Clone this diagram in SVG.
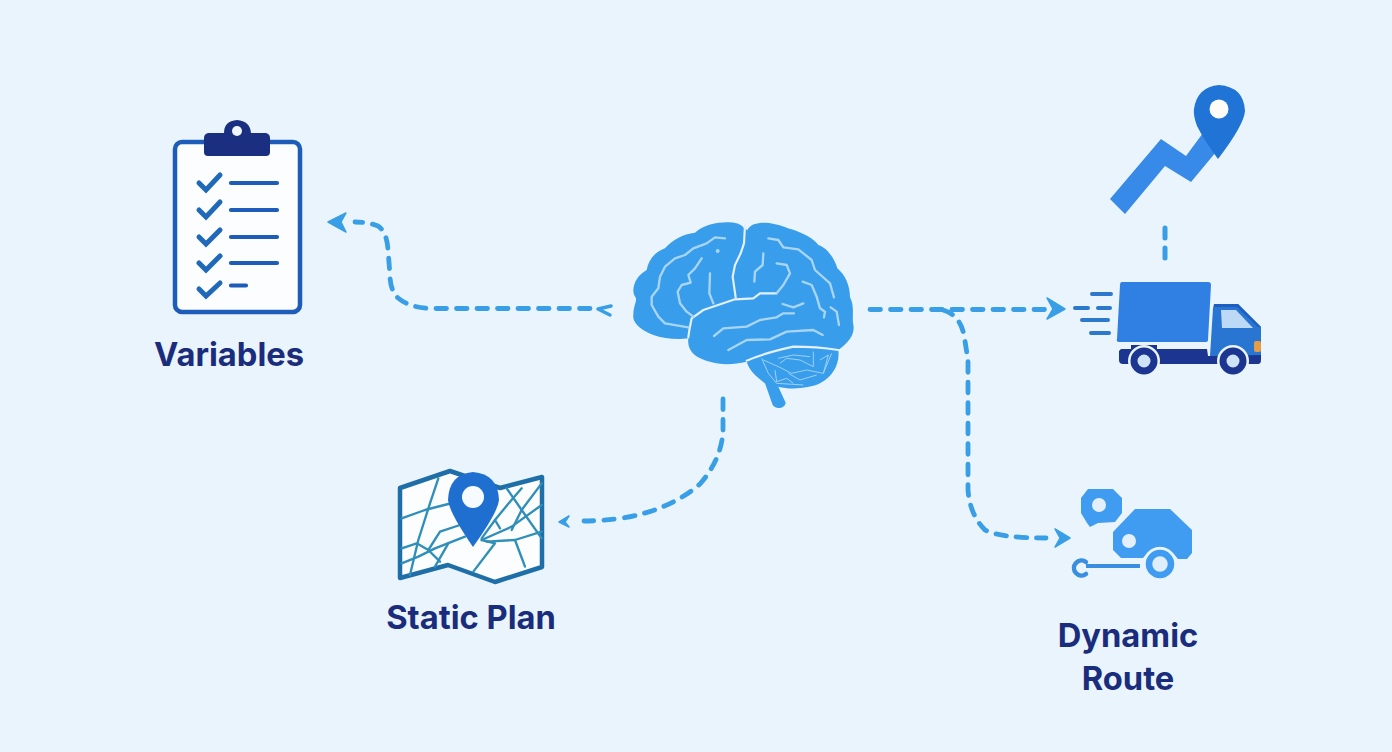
<svg xmlns="http://www.w3.org/2000/svg" width="1392" height="752" viewBox="0 0 1392 752">
<style>
.lbl{font-family:"Inter","Liberation Sans",sans-serif;font-weight:700;font-size:32.700px;fill:#1a2d7c;text-anchor:middle}
.dash{fill:none;stroke:#389fe6;stroke-width:4.800;stroke-linecap:round;stroke-dasharray:10.500 10}
.head{fill:#389fe6;stroke:#389fe6;stroke-width:1.500;stroke-linejoin:round}
.sul{fill:none;stroke:#a9d5f5;stroke-width:7;stroke-linecap:round;stroke-linejoin:round}
.gap{fill:none;stroke:#e4f1fc;stroke-width:6.500;stroke-linecap:round;stroke-linejoin:round}
.cer{fill:none;stroke:#9fd0f4;stroke-width:3;stroke-linejoin:round}
.road{fill:none;stroke:#2f8fb8;stroke-width:7;stroke-linejoin:round;stroke-linecap:round}
.chk{fill:none;stroke:#1f69b8;stroke-width:5;stroke-linecap:round;stroke-linejoin:miter}
.ln{fill:none;stroke:#1d5cb8;stroke-width:4.200;stroke-linecap:round}
.spd{fill:none;stroke:#2c78cc;stroke-width:4;stroke-linecap:round}
</style>
<rect width="1392" height="752" fill="#eaf4fd"/>
<g id="connectors">
<path class="dash" d="M590 308.500H432Q410 308 398 298Q390 290 390 275L388 250Q387 232 378 226Q368 222 355 222"/>
<path class="head" d="M328 222L346 213L341 222L346 232Z"/>
<path fill="none" stroke="#389fe6" stroke-width="3.500" stroke-linecap="round" stroke-linejoin="round" d="M611 306L598 309L610 315"/>
<path class="dash" d="M870 309.500H1045"/>
<path class="head" d="M1065 309L1047 298L1053 309L1047 319Z"/>
<path class="dash" d="M943 310Q960 315 964 335L968 360V490Q970 515 985 530Q1000 538 1046 538"/>
<path class="head" d="M1070 538L1055 529L1060 538L1055 547Z"/>
<path class="dash" d="M723 399V432Q721 460 700 484Q670 510 623 518Q600 521 584 521"/>
<path class="head" d="M559 522L569 516L565 522L569 527Z"/>
<path class="dash" style="stroke-width:5;stroke-dasharray:10 10" d="M1165 228V258"/>
</g>
<g id="brain" transform="translate(620 210) scale(.33333)">
<path fill="#389dea" d="M40 240C42 215 55 195 80 180C85 150 105 125 135 115C155 90 190 72 225 68C250 45 290 37 320 37C345 37 365 42 372 55L382 60C390 42 415 37 435 38C470 40 490 50 515 58C550 70 580 85 595 105C625 115 645 150 652 175C675 195 690 225 690 262C705 290 695 320 700 345C705 370 690 395 655 420C660 460 640 500 600 520C570 535 510 540 475 530L497 578C497 592 470 602 458 585L435 520C410 500 390 485 380 455C340 465 300 465 270 455C230 445 200 425 205 385C170 390 130 385 100 375C70 365 35 340 40 315C40 290 50 275 48 265C42 255 40 250 40 240Z"/>
<polyline class="gap" points="375,45 372,100 362,130 345,165 338,200 347,262"/>
<polyline class="gap" points="205,382 208,360 215,325 250,300 345,268 400,265 420,250 470,250"/>
<path class="gap" d="M380 452Q430 430 520 410Q590 410 655 420"/>
<polyline class="sul" points="315,85 285,82 260,100 220,115 195,135 165,145 135,170 120,200 115,235 95,260 95,285 115,320 135,340 205,352"/>
<polyline class="sul" points="245,145 225,175 205,195 212,218 185,225 173,245 180,280 200,305 220,320"/>
<polyline class="sul" points="270,190 268,250 280,280"/>
<circle cx="293" cy="123" r="6" fill="#a9d5f5"/>
<polyline class="sul" points="470,250 490,225 510,190 500,165 470,160"/>
<polyline class="sul" points="430,130 428,165 405,185 403,215"/>
<polyline class="sul" points="445,85 475,90 490,112 535,118 575,150 585,180 630,220 642,262"/>
<polyline class="sul" points="548,215 575,225 590,260 600,295 615,305 612,322"/>
<polyline class="sul" points="632,292 650,305 657,345"/>
<polyline class="sul" points="488,282 520,292 550,280"/>
<polyline class="sul" points="282,378 310,355 380,350 420,330 470,322 490,310 522,310"/>
<polyline class="sul" points="325,420 380,390 450,388 500,365 580,360 608,375"/>
<path class="cer" d="M425 445L445 490L470 520L550 525M430 450L475 470L515 490L560 480L610 490L635 430M475 445L520 435L570 440M480 460L500 445L540 450L580 470L580 425M465 480L470 515L500 505L520 520M505 490L540 510L590 495M600 450L625 435L610 490"/>
</g>
<g id="variables">
<rect x="175" y="142" width="125" height="170" rx="7" fill="#fbfdff" stroke="#1d5cb8" stroke-width="4.500"/>
<path fill="#1b2f80" d="M224 133Q224 121 237 120Q250 121 251 133H266Q270 134 270 138V152Q270 156 266 156H208Q204 156 204 152V138Q204 134 208 133Z"/>
<circle cx="237" cy="131" r="5" fill="#f0f6fc"/>
<path class="chk" d="M199 183L206 190L220 175"/>
<path class="chk" d="M199 210L206 217L220 202"/>
<path class="chk" d="M199 237L206 244L220 230"/>
<path class="chk" d="M199 263L206 270L220 256"/>
<path class="chk" d="M199 289L206 296L220 283"/>
<path class="ln" d="M231 183H277M231 210H277M231 237H277M231 263H277M231 285.500H246"/>
<text class="lbl" x="229" y="366">Variables</text>
</g>
<g id="static-plan">
<path fill="#fbfdff" stroke="#1e6ea8" stroke-width="4.500" stroke-linejoin="round" d="M400 488L450 471L500 488L542 477V567L495 582L448 565L400 578Z"/>
<g class="road" transform="translate(385 460) scale(.33333)">
<polyline points="50,175 120,150 190,132"/>
<polyline points="160,55 135,130 100,240 75,345"/>
<polyline points="50,265 95,250 130,270 165,305"/>
<polyline points="50,310 100,290 150,265 240,230"/>
<polyline points="130,270 165,215 225,195"/>
<polyline points="190,250 150,320"/>
<polyline points="290,240 330,250 265,335"/>
<polyline points="290,240 380,200 470,135"/>
<polyline points="305,245 390,240 470,215"/>
<polyline points="390,240 420,320"/>
<polyline points="365,85 410,150 470,235"/>
<polyline points="410,85 375,125 330,180 345,205"/>
<polyline points="470,70 410,150 380,210"/>
<polyline points="330,180 290,235"/>
</g>
<path fill="#1f6fd1" d="M473 472Q498 474 499 500Q498 512 473 547Q449 512 448 500Q449 474 473 472Z"/>
<circle cx="473" cy="497" r="11" fill="#f6fbff"/>
<text class="lbl" x="471" y="629">Static Plan</text>
</g>
<g id="route-pin">
<path fill="#378ae8" d="M1110 199L1161 139L1186 156L1203 133L1221 146L1191 182L1165 166L1125 214Z"/>
<path fill="#1f74d6" d="M1219 85Q1244 87 1245 111Q1244 125 1218 159Q1204 140 1197 126Q1193 115 1194 109Q1197 87 1219 85Z"/>
<circle cx="1219" cy="109" r="9.500" fill="#fdfdf8"/>
</g>
<g id="truck">
<path fill="#3080e4" d="M1122 282H1208Q1211 282 1211 285L1208 340Q1208 342 1205 342H1119Q1116 342 1117 339L1120 285Q1120 282 1122 282Z"/>
<path fill="#2876d2" d="M1214 304H1238L1261 327V356L1210 356L1213 308Z"/>
<path fill="#1d5ec0" d="M1214 304H1238L1261 327H1258L1237 307H1214Z"/>
<path fill="#bcd9f5" d="M1221 310H1236L1253 328H1222Z"/>
<rect x="1254" y="341" width="7" height="11" rx="2" fill="#e69c42"/>
<path fill="#1b3590" d="M1121 349H1207L1208 356H1222L1261 355V360Q1261 364 1258 364H1123Q1119 364 1119 360V351ZM1131 345H1157V349H1131Z"/>
<circle cx="1144" cy="361" r="16" fill="#eaf4fd"/>
<circle cx="1233" cy="361" r="16" fill="#eaf4fd"/>
<circle cx="1144" cy="361" r="10" fill="#cfe3f7" stroke="#1b3590" stroke-width="7"/>
<circle cx="1233" cy="361" r="10" fill="#cfe3f7" stroke="#1b3590" stroke-width="7"/>
<path class="spd" d="M1092 294H1111M1075 308H1088M1098 308H1110M1082 320H1108M1091 333H1109"/>
</g>
<g id="dynamic-route">
<path fill="#3f9cf0" d="M1088 489H1113L1122 498V513L1115 522L1098 523L1090 527L1087 523L1081 513V498Z"/>
<circle cx="1099" cy="505" r="7" fill="#e3f0fc"/>
<path fill="#3f9cf0" d="M1135 509H1170L1192 530V553L1187 559L1178 559Q1160 535 1143 558H1121L1113 550V532Z"/>
<circle cx="1129" cy="541" r="7" fill="#e3f0fc"/>
<circle cx="1160" cy="564" r="17" fill="#eaf4fd"/>
<circle cx="1160" cy="564" r="11" fill="#dfeefb" stroke="#3f9cf0" stroke-width="6.500"/>
<path fill="none" stroke="#3a8ee0" stroke-width="4.500" stroke-linecap="round" d="M1086 562A7.500 7.500 0 1 0 1086 574"/>
<path fill="none" stroke="#3a8ee0" stroke-width="3.800" d="M1086 566H1140"/>
<text class="lbl" x="1128" y="647">Dynamic</text>
<text class="lbl" x="1128" y="690">Route</text>
</g>
</svg>
